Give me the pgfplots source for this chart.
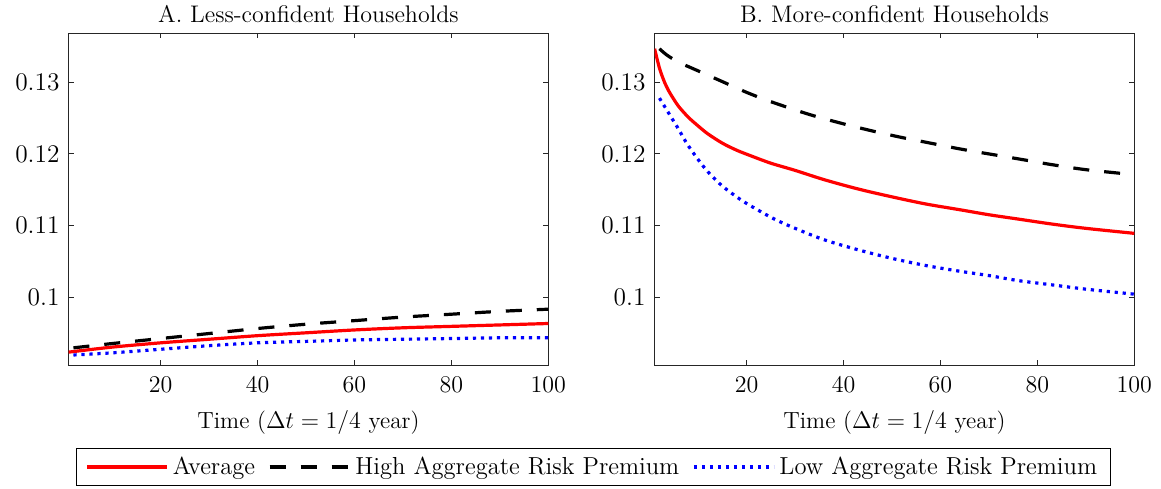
\documentclass[border=0pt]{standalone}
\usepackage{pgfplots}
\pgfplotsset{compat=1.18}
\definecolor{axgray}{gray}{0.15}
\pgfplotstableread{
x y
1 0.0923
10 0.0930
20 0.0936
30 0.0941
40 0.0946
50 0.0950
60 0.0954
70 0.0957
80 0.0959
90 0.0961
100 0.0963
}\avgA
\pgfplotstableread{
x y
2 0.0929
10 0.0935
20 0.0942
30 0.0949
40 0.0956
50 0.0962
60 0.0967
70 0.0972
80 0.0976
90 0.0980
100 0.0983
}\highA
\pgfplotstableread{
x y
2 0.0919
10 0.0922
20 0.0927
30 0.0932
40 0.0936
50 0.0938
60 0.0940
70 0.0941
80 0.0942
90 0.0943
100 0.0943
}\lowA
\pgfplotstableread{
x y
1 0.1347
2 0.1320
3 0.1301
4 0.1287
5 0.1276
6 0.1266
8 0.1251
10 0.1239
12 0.1228
15 0.1215
18 0.1205
21 0.1197
25 0.1187
30 0.1177
36 0.1164
43 0.1151
50 0.1140
57 0.1130
64 0.1122
70 0.1115
76 0.1109
83 0.1102
90 0.1096
100 0.1089
}\avgB
\pgfplotstableread{
x y
2 0.1347
3 0.1341
4 0.1336
6 0.1328
9 0.1319
12 0.1310
15 0.1301
20 0.1286
25 0.1273
33 0.1255
40 0.1242
46 0.1232
52 0.1223
58 0.1215
64 0.1207
70 0.1200
77 0.1192
83 0.1185
90 0.1178
100 0.1171
}\highB
\pgfplotstableread{
x y
2 0.1278
3 0.1267
4 0.1256
5 0.1245
6 0.1234
7 0.1222
8 0.1211
10 0.1192
12 0.1175
15 0.1155
19 0.1135
23 0.1119
26 0.1108
30 0.1096
36 0.1080
43 0.1066
50 0.1054
57 0.1044
64 0.1036
70 0.1030
76 0.1023
83 0.1017
90 0.1011
100 0.1004
}\lowB
\begin{document}
\begin{tikzpicture}
\useasboundingbox (-34.3pt,-61.5pt) rectangle (546.2pt,182.5pt);
\pgfplotsset{
  myax/.style={
    width=239.85pt, height=166pt, scale only axis,
    xmin=1, xmax=100, ymin=0.0905, ymax=0.1369,
    xtick={20,40,60,80,100},
    ytick={0.1,0.11,0.12,0.13},
    yticklabels={0.1,0.11,0.12,0.13},
    tick align=inside,
    major tick length=2.5pt,
    axis line style={axgray, line width=0.5pt},
    every tick/.style={axgray, line width=0.5pt},
    ticklabel style={font=\fontsize{12.7}{14}\selectfont},
    xticklabel style={yshift=-2.5pt},
    yticklabel style={xshift=-1pt},
    title style={at={(axis description cs:0.5,1)}, anchor=base, yshift=-0.5pt, font=\fontsize{12}{14}\selectfont},
    xlabel style={at={(axis description cs:0.5,0)}, anchor=base, yshift=-31.8pt, font=\fontsize{11.7}{14}\selectfont},
    xlabel={Time ($\Delta t = 1/4$ year)},
    legend image code/.code={\draw[#1] (0pt,0pt) -- (40pt,0pt);},
  },
  avg/.style={red, line width=1.6pt, smooth},
  high/.style={black, line width=1.6pt, dash pattern=on 8pt off 7.5pt, smooth},
  low/.style={blue, line width=1.6pt, dash pattern=on 1.6pt off 2.4pt, smooth},
}
\begin{axis}[myax, title={A. Less-confident Households},
  legend style={at={(1.094,-0.307)}, anchor=center, legend columns=3,
    draw=black, line width=0.5pt, fill=white, inner xsep=4.5pt,
    font=\fontsize{12.3}{14}\selectfont,
    /tikz/every even column/.append style={column sep=4.5pt}},
]
\addplot[avg] table[x=x,y=y] {\avgA};
\addlegendentry{Average}
\addplot[high] table[x=x,y=y] {\highA};
\addlegendentry{High Aggregate Risk Premium}
\addplot[low] table[x=x,y=y] {\lowA};
\addlegendentry{Low Aggregate Risk Premium}
\end{axis}
\begin{axis}[myax, at={(293pt,0pt)}, title={B. More-confident Households}]
\addplot[avg] table[x=x,y=y] {\avgB};
\addplot[high] table[x=x,y=y] {\highB};
\addplot[low] table[x=x,y=y] {\lowB};
\end{axis}
\end{tikzpicture}
\end{document}
